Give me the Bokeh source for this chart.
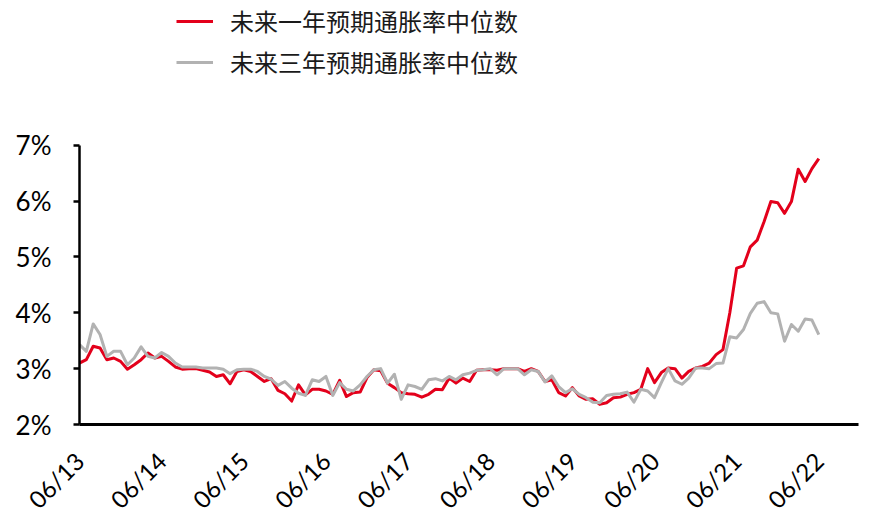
from bokeh.plotting import figure
from bokeh.models import Range1d, FixedTicker, Legend, LegendItem
from bokeh.embed import file_html
from bokeh.resources import INLINE
import math

# Monthly data, 06/2013 .. 06/2022 (percent)
one_year = [
    3.10, 3.16, 3.40, 3.37, 3.16, 3.19, 3.13, 2.99, 3.07, 3.16, 3.28, 3.19,
    3.22, 3.13, 3.03, 2.99, 3.00, 3.00, 2.97, 2.94, 2.86, 2.89, 2.73, 2.95,
    2.98, 2.95, 2.86, 2.77, 2.82, 2.61, 2.55, 2.42, 2.71, 2.53, 2.63, 2.63,
    2.60, 2.54, 2.79, 2.50, 2.57, 2.58, 2.84, 2.98, 2.96, 2.74, 2.66, 2.57,
    2.55, 2.54, 2.49, 2.54, 2.63, 2.62, 2.83, 2.74, 2.83, 2.77, 2.97, 2.98,
    2.98, 2.97, 3.00, 3.00, 3.00, 2.95, 3.00, 2.95, 2.77, 2.80, 2.57, 2.51,
    2.66, 2.51, 2.45, 2.46, 2.36, 2.39, 2.48, 2.49, 2.54, 2.57, 2.63, 3.00,
    2.75, 2.93, 3.01, 3.00, 2.83, 2.95, 3.01, 3.04, 3.10, 3.25, 3.34, 4.00,
    4.80, 4.84, 5.18, 5.30, 5.63, 5.99, 5.97, 5.78, 5.99, 6.57, 6.35, 6.58,
    6.76,
]
three_year = [
    3.43, 3.31, 3.80, 3.61, 3.22, 3.31, 3.31, 3.07, 3.19, 3.39, 3.22, 3.19,
    3.29, 3.22, 3.10, 3.03, 3.03, 3.03, 3.01, 3.01, 3.01, 2.99, 2.91, 2.98,
    2.99, 2.99, 2.95, 2.86, 2.81, 2.70, 2.77, 2.65, 2.56, 2.52, 2.80, 2.77,
    2.86, 2.52, 2.75, 2.63, 2.60, 2.71, 2.86, 2.98, 3.00, 2.74, 2.90, 2.45,
    2.71, 2.68, 2.63, 2.80, 2.82, 2.78, 2.86, 2.80, 2.89, 2.92, 2.97, 2.98,
    3.00, 2.89, 3.00, 3.00, 3.00, 2.89, 2.98, 2.95, 2.76, 2.87, 2.68, 2.57,
    2.64, 2.54, 2.48, 2.40, 2.39, 2.52, 2.54, 2.55, 2.58, 2.40, 2.63, 2.60,
    2.48, 2.75, 3.00, 2.78, 2.72, 2.83, 3.01, 3.01, 3.00, 3.09, 3.10, 3.57,
    3.55, 3.70, 3.99, 4.17, 4.20, 4.00, 3.98, 3.49, 3.79, 3.67, 3.89, 3.87,
    3.61,
]
x_tick_labels = ["06/13", "06/14", "06/15", "06/16", "06/17",
                 "06/18", "06/19", "06/20", "06/21", "06/22"]
y_ticks = [2, 3, 4, 5, 6, 7]
series_names = ["未来一年预期通胀率中位数", "未来三年预期通胀率中位数"]

months = list(range(len(one_year)))
x_ticks = [12 * k for k in range(len(x_tick_labels))]

RED = "#E3001B"
GRAY = "#B2B2B2"
TICK_FONT = "Lato"

# layout (pixels)
W, H = 869, 527
LEFT, RIGHT, BOTTOM = 79, 11, 102
AXIS_TOP_PX = 145           # where the 7% tick sits
PX_PER_PCT = 56
y_top = y_ticks[-1] + AXIS_TOP_PX / PX_PER_PCT   # frame reaches the top edge

p = figure(width=W, height=H, output_backend="svg", toolbar_location=None,
           x_range=Range1d(0, 113.8), y_range=Range1d(y_ticks[0], y_top),
           min_border_left=LEFT, min_border_right=RIGHT,
           min_border_top=0, min_border_bottom=BOTTOM)
p.outline_line_color = None
p.xgrid.visible = False
p.ygrid.visible = False
p.background_fill_color = "white"

r1 = p.line(months, one_year, line_color=RED, line_width=3, line_join="round")
r2 = p.line(months, three_year, line_color=GRAY, line_width=3, line_join="round")

# y axis (drawn only between 2% and 7%)
ya = p.yaxis[0]
ya.ticker = FixedTicker(ticks=y_ticks)
ya.bounds = (y_ticks[0], y_ticks[-1])
ya.major_label_overrides = {t: f"{t}%" for t in y_ticks}
ya.axis_line_color = "black"
ya.axis_line_width = 2.5
ya.major_tick_line_color = "black"
ya.major_tick_line_width = 2.5
ya.major_tick_out = 6
ya.major_tick_in = 0
ya.minor_tick_line_color = None
ya.major_label_text_font = TICK_FONT
ya.major_label_text_font_size = "26px"
ya.major_label_text_color = "black"
ya.major_label_standoff = 22

# x axis
xa = p.xaxis[0]
xa.ticker = FixedTicker(ticks=x_ticks)
xa.major_label_overrides = {t: lab for t, lab in zip(x_ticks, x_tick_labels)}
xa.major_label_orientation = math.pi / 4
xa.axis_line_color = "black"
xa.axis_line_width = 3
xa.major_tick_line_color = None
xa.minor_tick_line_color = None
xa.major_label_text_font = TICK_FONT
xa.major_label_text_font_size = "24px"
xa.major_label_text_color = "black"
xa.major_label_standoff = 26

legend = Legend(items=[LegendItem(label=series_names[0], renderers=[r1]),
                       LegendItem(label=series_names[1], renderers=[r2])],
                location=(97, 345))
legend.label_text_font = "Noto Sans CJK SC"
legend.label_text_font_size = "24px"
legend.label_text_color = "#1a1a1a"
legend.glyph_width = 37
legend.glyph_height = 20
legend.label_height = 20
legend.spacing = 6
legend.padding = 0
legend.margin = 0
legend.label_standoff = 17
legend.border_line_color = None
legend.background_fill_alpha = 0
p.add_layout(legend, "center")

open("out.html", "w").write(file_html(p, INLINE))
